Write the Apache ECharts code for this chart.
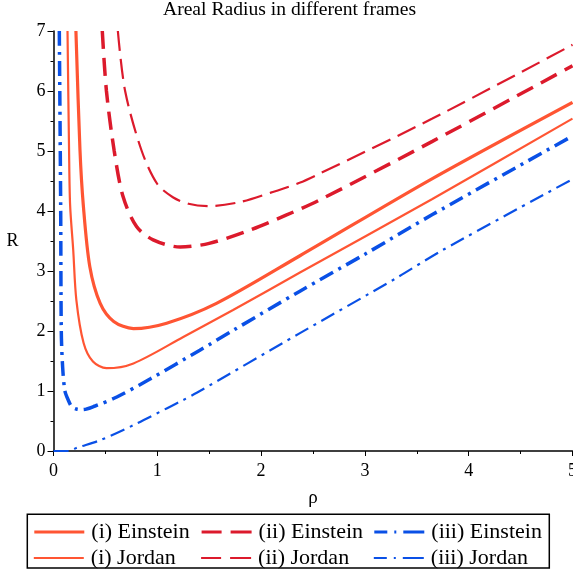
<!DOCTYPE html>
<html>
<head>
<meta charset="utf-8">
<script src="https://cdn.jsdelivr.net/npm/echarts@6/dist/echarts.min.js"></script>
<style>html,body{margin:0;padding:0;background:#fff;overflow:hidden}#c{width:573px;height:571px}</style>
</head>
<body>
<div id="c"></div>
<script>
// ---- data ----
const xTicks = [0, 1, 2, 3, 4, 5];
const yTicks = [0, 1, 2, 3, 4, 5, 6, 7];
const seriesNames = ['(i) Einstein', '(i) Jordan', '(ii) Einstein', '(ii) Jordan', '(iii) Einstein', '(iii) Jordan'];

const rhoIE = [0.216, 0.255, 0.287, 0.35, 0.45, 0.58, 0.77, 1.09, 1.57, 2.37, 3.65, 5.0];
const RIE   = [7.0,   5.02,  4.1,   3.07, 2.46, 2.16, 2.04, 2.13, 2.46, 3.25, 4.54, 5.81];

const rhoIJ = [0.135, 0.15, 0.16, 0.19, 0.22, 0.29, 0.38, 0.51, 0.77, 1.25, 1.73, 2.37, 3.65, 5.0];
const RIJ   = [7.0,   5.0,  4.1,  3.35, 2.52, 1.8,  1.49, 1.38, 1.46, 1.9,  2.35, 2.97, 4.2,  5.54];

const rhoIIE = [0.47, 0.51, 0.585, 0.67, 0.8,  0.96, 1.22, 1.5,  1.89, 2.24, 2.56, 3.65, 5.0];
const RIIE   = [7.0,  6.0,  5.0,   4.24, 3.74, 3.52, 3.4,  3.46, 3.68, 3.93, 4.18, 5.16, 6.42];

const rhoIIJ = [0.62, 0.69, 0.85, 1.0,  1.15, 1.3,  1.5,  1.8,  2.1,  2.37, 2.56, 3.65, 5.0];
const RIIJ   = [7.0,  6.0,  5.0,  4.45, 4.23, 4.12, 4.08, 4.15, 4.31, 4.47, 4.62, 5.54, 6.77];

const rhoIIIE = [0.056, 0.069, 0.075, 0.088, 0.11, 0.142, 0.175, 0.22, 0.28, 0.4,  0.61, 0.93, 1.41, 1.73, 2.37, 3.0,  3.65, 5.0];
const RIIIE   = [7.0,   4.1,   2.0,   1.4,   1.0,  0.85,  0.74,  0.7,  0.69, 0.75, 0.9,  1.2,  1.68, 2.01, 2.66, 3.28, 3.94, 5.25];

const rhoIIIJ = [0.0, 0.15, 0.22, 0.45, 0.77, 1.09, 1.25, 1.38, 2.37, 3.3,  3.75, 5.0];
const RIIIJ   = [0.0, 0.0,  0.05, 0.18, 0.43, 0.71, 0.85, 0.97, 1.96, 2.88, 3.35, 4.53];

// ---- styling ----
const FONT = "'Liberation Serif', 'Times New Roman', serif";
const C1 = '#FF5533', C2 = '#DC1A2C', C3 = '#0A50E6';
const pair = (xs, ys) => xs.map((x, i) => [x, ys[i]]);

const styles = [
  { color: C1, width: 3.2, type: 'solid', legendType: 'solid' },
  { color: C1, width: 2.2, type: 'solid', legendType: 'solid' },
  { color: C2, width: 3.5, type: [18, 9], legendType: [20, 9, 30] },
  { color: C2, width: 2.2, type: [20, 8], legendType: [20, 9, 30] },
  { color: C3, width: 3.5, type: [15, 6, 3, 6], legendType: [13, 7, 2, 7, 30] },
  { color: C3, width: 2.2, type: [15, 6, 3, 6], legendType: [13, 7, 2, 7, 30] }
];
const dataX = [rhoIE, rhoIJ, rhoIIE, rhoIIJ, rhoIIIE, rhoIIIJ];
const dataY = [RIE, RIJ, RIIE, RIIJ, RIIIE, RIIIJ];

const series = seriesNames.map((n, i) => ({
  name: n, type: 'line', data: pair(dataX[i], dataY[i]), smooth: 0.3,
  symbol: 'none', clip: true,
  lineStyle: { color: styles[i].color, width: styles[i].width, type: styles[i].type },
  itemStyle: { color: styles[i].color }
}));

const legendPos = [
  [32.7, 521], [32.7, 547],
  [200, 521], [200, 547],
  [372.7, 521], [372.7, 547]
];
const legends = seriesNames.map((n, i) => ({
  data: [n], left: legendPos[i][0], top: legendPos[i][1], padding: 0,
  itemWidth: 50, itemHeight: 14, itemGap: 0,
  itemStyle: { color: 'rgba(0,0,0,0)', borderColor: 'rgba(0,0,0,0)', borderWidth: 0, opacity: 0 },
  lineStyle: { width: i % 2 === 0 ? 3.2 : 2.2, type: styles[i].legendType, color: styles[i].color },
  textStyle: { fontFamily: FONT, fontSize: 22, color: '#000', padding: [0, 0, 0, 2] },
  selectedMode: false
}));

const chart = echarts.init(document.getElementById('c'), null, { renderer: 'canvas', width: 573, height: 571 });
chart.setOption({
  animation: false,
  backgroundColor: '#fff',
  textStyle: { fontFamily: FONT },
  title: {
    text: 'Areal Radius in different frames', left: 163, top: 0, padding: 0,
    textStyle: { fontFamily: FONT, fontSize: 19.6, fontWeight: 'normal', color: '#000' }
  },
  legend: legends,
  grid: { left: 53.5, right: 0.5, top: 31, bottom: 120, containLabel: false, outerBoundsMode: 'none' },
  xAxis: {
    type: 'value', min: xTicks[0], max: xTicks[xTicks.length - 1], interval: 1,
    name: 'ρ', nameLocation: 'middle', nameGap: 38,
    nameTextStyle: { fontFamily: FONT, fontSize: 19, color: '#000' },
    axisLine: { lineStyle: { color: '#000', width: 1.5 } },
    axisTick: { length: 5, lineStyle: { color: '#000', width: 1 } },
    minorTick: { show: true, splitNumber: 2, length: 3, lineStyle: { color: '#000', width: 1 } },
    splitLine: { show: false },
    axisLabel: { fontFamily: FONT, fontSize: 18, color: '#000', margin: 11, showMaxLabel: true, hideOverlap: false }
  },
  yAxis: {
    type: 'value', min: yTicks[0], max: yTicks[yTicks.length - 1], interval: 1,
    name: 'R', nameLocation: 'middle', nameGap: 35, nameRotate: 0,
    nameTextStyle: { fontFamily: FONT, fontSize: 18, color: '#000' },
    axisLine: { show: true, lineStyle: { color: '#000', width: 1.5 } },
    axisTick: { show: true, length: 6, lineStyle: { color: '#000', width: 1 } },
    minorTick: { show: true, splitNumber: 2, length: 3, lineStyle: { color: '#000', width: 1 } },
    splitLine: { show: false },
    axisLabel: { fontFamily: FONT, fontSize: 18, color: '#000', margin: 8 }
  },
  graphic: [{
    type: 'rect', shape: { x: 27.3, y: 514.3, width: 522, height: 53.7 },
    style: { fill: 'none', stroke: '#000', lineWidth: 1.5 }, silent: true
  }],
  series: series
});
</script>
</body>
</html>
